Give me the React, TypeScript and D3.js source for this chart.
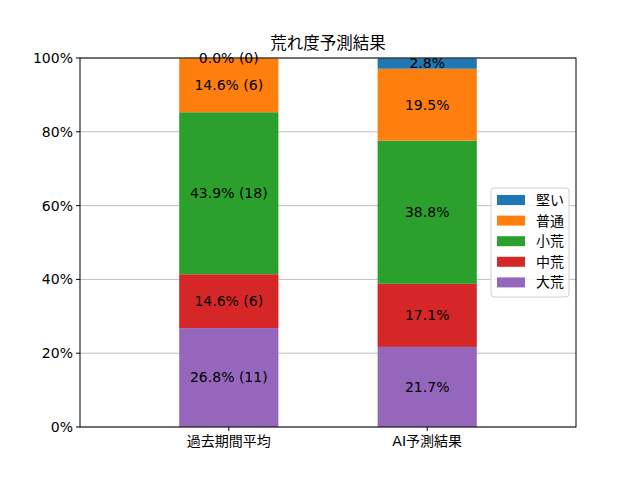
import { scaleBand, scaleLinear } from 'd3'

const categories = ['過去期間平均', 'AI予測結果']
const levels = ['大荒', '中荒', '小荒', '普通', '堅い']
const colors = ['#9467bd', '#d62728', '#2ca02c', '#ff7f0e', '#1f77b4']
const pastValues = [26.8, 14.6, 43.9, 14.6, 0.0]
const pastCounts = [11, 6, 18, 6, 0]
const aiValues = [21.7, 17.1, 38.8, 19.5, 2.8]
const yTicks = [0, 20, 40, 60, 80, 100]

const FONT = '"DejaVu Sans", "Noto Sans CJK JP", sans-serif'

export default function App() {
  const width = 640
  const height = 480
  const margin = { top: 58, right: 64, bottom: 53, left: 80 }
  const chartWidth = width - margin.left - margin.right
  const chartHeight = height - margin.top - margin.bottom

  // bars of width 0.5 with x limits -0.75..1.75
  const xScale = scaleBand().domain(categories).range([0, chartWidth]).paddingInner(0.5).paddingOuter(0.5)
  const yScale = scaleLinear().domain([0, 100]).range([chartHeight, 0])

  const series = [
    { name: categories[0], values: pastValues, counts: pastCounts as number[] | null },
    { name: categories[1], values: aiValues, counts: null },
  ]

  return (
    <svg width={width} height={height} style={{ position: 'absolute', left: 0, top: 0, fontFamily: FONT }}>
      <rect width={width} height={height} fill="#fff" />
      <text x={margin.left + chartWidth / 2} y={49} textAnchor="middle" fontSize={16.5} fill="#000">
        荒れ度予測結果
      </text>
      <g transform={`translate(${margin.left},${margin.top})`}>
        {yTicks.map((t) => (
          <line key={`grid-${t}`} x1={0} x2={chartWidth} y1={yScale(t)} y2={yScale(t)} stroke="#b0b0b0" strokeWidth={0.8} />
        ))}
        {series.map((s) => {
          let acc = 0
          const x = xScale(s.name) ?? 0
          return (
            <g key={s.name}>
              {s.values.map((v, i) => {
                const y0 = acc
                acc += v
                return (
                  <rect
                    key={levels[i]}
                    x={x}
                    width={xScale.bandwidth()}
                    y={yScale(Math.min(acc, 100))}
                    height={yScale(y0) - yScale(Math.min(acc, 100))}
                    fill={colors[i]}
                  />
                )
              })}
            </g>
          )
        })}
        {series.map((s) => {
          let acc = 0
          const cx = (xScale(s.name) ?? 0) + xScale.bandwidth() / 2
          return (
            <g key={`lbl-${s.name}`}>
              {s.values.map((v, i) => {
                const mid = Math.min(acc + v / 2, 100)
                acc += v
                const label = s.counts ? `${v.toFixed(1)}% (${s.counts[i]})` : `${v.toFixed(1)}%`
                return (
                  <text key={levels[i]} x={cx} y={yScale(mid)} dy="0.35em" textAnchor="middle" fontSize={14} fill="#000">
                    {label}
                  </text>
                )
              })}
            </g>
          )
        })}
        <rect x={0} y={0} width={chartWidth} height={chartHeight} fill="none" stroke="#000" strokeWidth={1} />
        {yTicks.map((t) => (
          <g key={`yt-${t}`} transform={`translate(0,${yScale(t)})`}>
            <line x1={-4} x2={0} stroke="#000" />
            <text x={-7} dy="0.35em" textAnchor="end" fontSize={14} fill="#000">
              {t}%
            </text>
          </g>
        ))}
        {categories.map((c) => {
          const cx = (xScale(c) ?? 0) + xScale.bandwidth() / 2
          return (
            <g key={`xt-${c}`} transform={`translate(${cx},${chartHeight})`}>
              <line y1={0} y2={4} stroke="#000" />
              <text y={19} textAnchor="middle" fontSize={14} fill="#000">
                {c}
              </text>
            </g>
          )
        })}
        <g transform={`translate(${chartWidth - 85},130)`}>
          <rect x={0} y={0} width={78} height={109} rx={3} fill="#fff" fillOpacity={0.8} stroke="#d0d0d0" />
          {levels
            .map((l, i) => ({ l, c: colors[i] }))
            .reverse()
            .map((d, j) => (
              <g key={d.l} transform={`translate(6,${7 + j * 20.6})`}>
                <rect x={0} y={0} width={28} height={10} fill={d.c} />
                <text x={39} y={5} dy="0.35em" fontSize={14} fill="#000">
                  {d.l}
                </text>
              </g>
            ))}
        </g>
      </g>
    </svg>
  )
}
